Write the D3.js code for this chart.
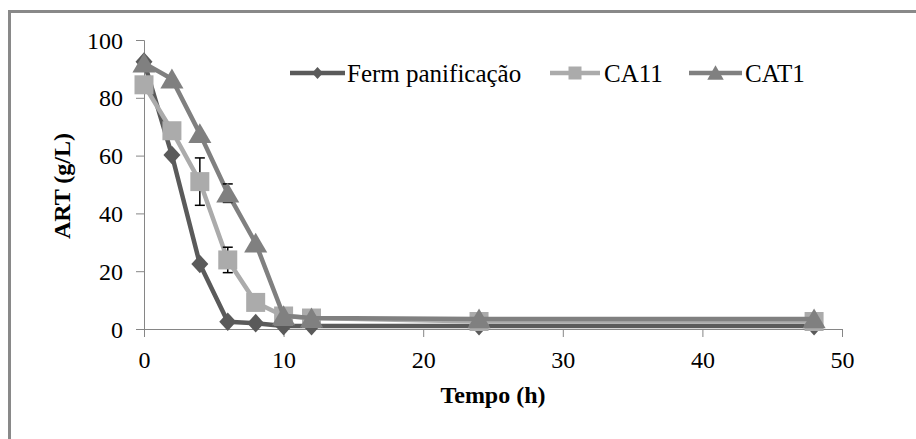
<!DOCTYPE html>
<html>
<head>
<meta charset="utf-8">
<script src="https://cdn.jsdelivr.net/npm/d3@7"></script>
<style>
  html, body { margin: 0; padding: 0; background: #fff; }
  svg { display: block; }
  svg text { font-family: "Liberation Serif", Tinos, "Times New Roman", Times, "DejaVu Serif", serif !important; fill: #000; }
</style>
</head>
<body>
<svg id="chart" width="916" height="439"></svg>
<script>
// Sampling times (h)
const tempo = [0, 2, 4, 6, 8, 10, 12, 24, 48];

// Reducing sugars (ART, g/L) per strain
const fermPanificacao = [92.5, 60.2, 22.5, 2.5, 2, 1, 1, 1, 1];
const ca11 = [84.5, 68.6, 51.0, 23.9, 9.2, 4.5, 3.8, 2.6, 2.6];
const cat1 = [92, 86.5, 67.6, 47, 29.7, 4.6, 3.8, 3.5, 3.5];

// Standard deviations (null = no bar drawn)
const ca11Err = [null, null, 8.2, 4.4, null, null, null, null, null];
const cat1Err = [null, null, null, 3.2, null, null, null, null, null];

const seriesNames = ["Ferm panificação", "CA11", "CAT1"];
const xTicks = [0, 10, 20, 30, 40, 50];
const yTicks = [0, 20, 40, 60, 80, 100];

const FONT = '"Liberation Serif", Tinos, "Times New Roman", Times, "DejaVu Serif", serif';

const svg = d3.select("#chart");

// outer frame (only the top and left edges fall inside the canvas)
svg.append("rect")
  .attr("x", 9.5).attr("y", 11.5)
  .attr("width", 1000).attr("height", 1000)
  .attr("fill", "none").attr("stroke", "#898989").attr("stroke-width", 3);

const x = d3.scaleLinear().domain([0, 50]).range([144, 842]);
const y = d3.scaleLinear().domain([0, 100]).range([329, 40]);

const axisColor = "#868686";

// y axis
const yAxis = svg.append("g")
  .attr("transform", `translate(${x(0)},0)`)
  .call(d3.axisLeft(y).tickValues(yTicks).tickSize(8).tickPadding(13).tickFormat(d3.format("d")));
yAxis.attr("font-family", FONT).attr("font-size", 24);
yAxis.select(".domain").attr("stroke", axisColor);
yAxis.selectAll(".tick line").attr("stroke", axisColor);
yAxis.selectAll("text").attr("fill", "#000").attr("dy", "0.34em");

// x axis
const xAxis = svg.append("g")
  .attr("transform", `translate(0,${y(0)})`)
  .call(d3.axisBottom(x).tickValues(xTicks).tickSize(8).tickPadding(14).tickFormat(d3.format("d")));
xAxis.attr("font-family", FONT).attr("font-size", 24);
xAxis.select(".domain").attr("stroke", axisColor);
xAxis.selectAll(".tick line").attr("stroke", axisColor);
xAxis.selectAll("text").attr("fill", "#000").attr("dy", "0.71em");

// axis titles
svg.append("text")
  .attr("transform", `translate(70,186) rotate(-90)`)
  .attr("text-anchor", "middle")
  .attr("font-family", FONT)
  .attr("font-size", 24).attr("font-weight", "bold")
  .text("ART (g/L)");

svg.append("text")
  .attr("x", 493).attr("y", 403)
  .attr("text-anchor", "middle")
  .attr("font-family", FONT)
  .attr("font-size", 24).attr("font-weight", "bold")
  .text("Tempo (h)");

const series = [
  { name: seriesNames[0], values: fermPanificacao, err: null, color: "#5a5a5a", marker: "diamond" },
  { name: seriesNames[1], values: ca11, err: ca11Err, color: "#ababab", marker: "square" },
  { name: seriesNames[2], values: cat1, err: cat1Err, color: "#808080", marker: "triangle" }
];

const line = d3.line().x(d => x(d[0])).y(d => y(d[1]));

// marker outlines, centred on the data point
function markerPath(type, size) {
  const p = d3.path();
  if (type === "diamond") {
    const w = size * 0.5, h = size * 0.55;
    p.moveTo(0, -h); p.lineTo(w, 0); p.lineTo(0, h); p.lineTo(-w, 0); p.closePath();
  } else if (type === "square") {
    const s = size / 2;
    p.rect(-s, -s, size, size);
  } else {
    const w = size * 0.55, h = size * 0.45;
    p.moveTo(0, -h - 1); p.lineTo(w, h); p.lineTo(-w, h); p.closePath();
  }
  return p.toString();
}
const markerSize = [17, 19, 21];

series.forEach((s, i) => {
  const g = svg.append("g");
  const pts = tempo.map((t, k) => [t, s.values[k]]);
  g.append("path")
    .attr("d", line(pts))
    .attr("fill", "none").attr("stroke", s.color)
    .attr("stroke-width", 4.5).attr("stroke-linejoin", "round");

  if (s.err) {
    tempo.forEach((t, k) => {
      const e = s.err[k];
      if (e == null) return;
      const cx = x(t), y1 = y(s.values[k] + e), y0 = y(s.values[k] - e);
      g.append("line").attr("x1", cx).attr("x2", cx).attr("y1", y1).attr("y2", y0)
        .attr("stroke", "#000").attr("stroke-width", 1.5);
      [y1, y0].forEach(yy => g.append("line")
        .attr("x1", cx - 5).attr("x2", cx + 5).attr("y1", yy).attr("y2", yy)
        .attr("stroke", "#000").attr("stroke-width", 1.5));
    });
  }

  g.selectAll("path.mk").data(pts).join("path")
    .attr("class", "mk")
    .attr("transform", d => `translate(${x(d[0])},${y(d[1])})`)
    .attr("d", markerPath(s.marker, markerSize[i]))
    .attr("fill", s.color);
});

// legend
const legendItems = [
  { x0: 290, x1: 345, tx: 347 },
  { x0: 550, x1: 600, tx: 604 },
  { x0: 689, x1: 742, tx: 745 }
];
const legendMarker = [11, 13, 15];
const ly = 73;
series.forEach((s, i) => {
  const it = legendItems[i];
  const g = svg.append("g");
  g.append("line").attr("x1", it.x0).attr("x2", it.x1).attr("y1", ly).attr("y2", ly)
    .attr("stroke", s.color).attr("stroke-width", 4.5);
  g.append("path")
    .attr("transform", `translate(${(it.x0 + it.x1) / 2},${ly})`)
    .attr("d", markerPath(s.marker, legendMarker[i]))
    .attr("fill", s.color);
  g.append("text").attr("x", it.tx).attr("y", ly).attr("dy", "0.34em")
    .attr("font-family", FONT)
    .attr("font-size", 25).text(s.name);
});
</script>
</body>
</html>
